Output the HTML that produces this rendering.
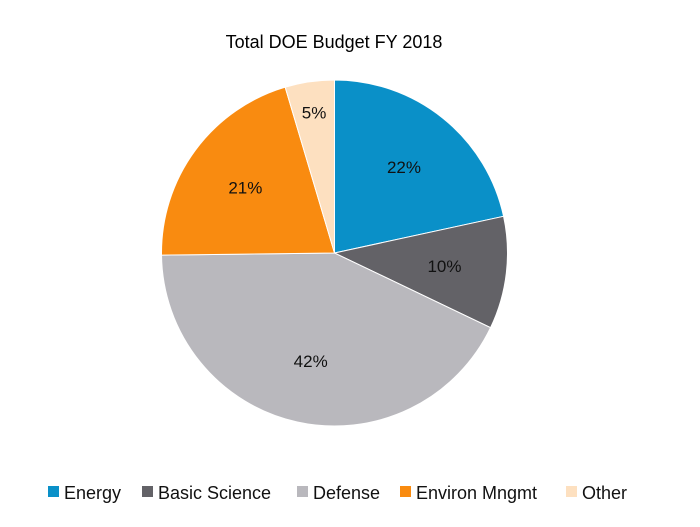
<!DOCTYPE html>
<html><head><meta charset="utf-8"><style>
body{margin:0;background:#fff;width:700px;height:527px;overflow:hidden;font-family:"Liberation Sans",sans-serif;}
svg{display:block}
</style></head><body>
<svg width="700" height="527">
<text x="334" y="48" text-anchor="middle" font-size="18" fill="#000">Total DOE Budget FY 2018</text>
<g id="slices"></g>
<g id="legend"></g>
</svg>
<script>
const categories=["Energy","Basic Science","Defense","Environ Mngmt","Other"];
const values=[21.6,10.5,42.7,20.6,4.6];
const percentLabels=["22%","10%","42%","21%","5%"];
const colors=["#0a90c8","#636267","#b9b8bd","#f98b10","#fde0c0"];
const cx=334.5,cy=253,r=173;
const ns="http://www.w3.org/2000/svg";
const g=document.getElementById('slices');
const total=values.reduce((a,b)=>a+b,0);
let a0=0;
values.forEach((v,i)=>{
  const a1=a0+v/total*2*Math.PI;
  const p=a=>[cx+r*Math.sin(a),cy-r*Math.cos(a)];
  const [x0,y0]=p(a0),[x1,y1]=p(a1);
  const path=document.createElementNS(ns,'path');
  path.setAttribute('d',`M${cx},${cy}L${x0},${y0}A${r},${r} 0 ${a1-a0>Math.PI?1:0} 1 ${x1},${y1}Z`);
  path.setAttribute('fill',colors[i]);
  path.setAttribute('stroke','#fff');path.setAttribute('stroke-width','1');
  
  
  g.appendChild(path);
  const am=(a0+a1)/2,lr=r*(v<8?0.82:0.64);
  const t=document.createElementNS(ns,'text');
  t.setAttribute('x',cx+lr*Math.sin(am));t.setAttribute('y',cy-lr*Math.cos(am)+6);
  t.setAttribute('text-anchor','middle');t.setAttribute('font-size','17');t.setAttribute('fill','#111');
  t.textContent=percentLabels[i];
  
  
  g.appendChild(t);
  a0=a1;
});
const lg=document.getElementById('legend');
const xs=[48,142,297,400,566];
categories.forEach((c,i)=>{
  const rc=document.createElementNS(ns,'rect');
  rc.setAttribute('x',xs[i]);rc.setAttribute('y',486);rc.setAttribute('width',11);rc.setAttribute('height',11);rc.setAttribute('fill',colors[i]);
  
  
  lg.appendChild(rc);
  const t=document.createElementNS(ns,'text');
  t.setAttribute('x',xs[i]+16);t.setAttribute('y',499);t.setAttribute('font-size','18');t.setAttribute('fill','#111');
  t.textContent=c;
  
  
  lg.appendChild(t);
});
</script>
</body></html>
